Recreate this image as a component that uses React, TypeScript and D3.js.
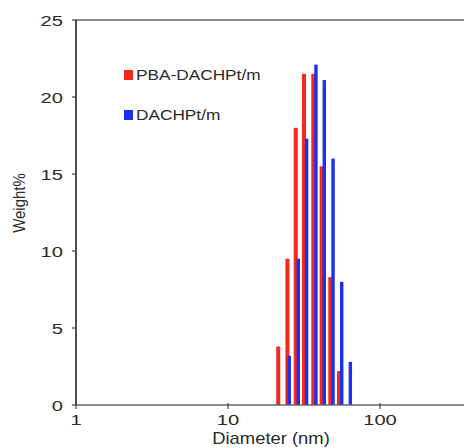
import React from "react";
import * as d3 from "d3";

const redDiameters = [21.4, 24.6, 27.9, 31.6, 36.4, 41.3, 47.1, 53.7];
const redValues = [3.8, 9.5, 18.0, 21.5, 21.5, 15.5, 8.3, 2.2];
const blueDiameters = [25.3, 29.0, 32.9, 37.9, 43.0, 49.1, 56.0, 63.8];
const blueValues = [3.2, 9.5, 17.3, 22.1, 21.1, 16.0, 8.0, 2.8];
const yTicks = [0, 5, 10, 15, 20, 25];
const xTicks = [1, 10, 100];
const seriesNames = ["PBA-DACHPt/m", "DACHPt/m"];

const W = 464;
const H = 448;
const left = 76;
const top = 20;
const bottom = 405;

export default function App() {
  const x = d3.scaleLog().domain([1, 1000]).range([left, left + 3 * 152]);
  const y = d3.scaleLinear().domain([0, 25]).range([bottom, top]);
  const red = "#f2291c";
  const blue = "#1c30ee";
  const font = "'Liberation Sans', Arial, sans-serif";
  const sx = 1.15;
  const tsx = 1.3;
  const txt = "#2a2a2a";
  return (
    <svg width={W} height={H} style={{ position: "absolute", left: 0, top: 0 }} fontFamily={font}>
      <rect width={W} height={H} fill="#fff" />
      {redDiameters.map((d, i) => (
        <rect key={"r" + i} x={x(d) - 2} width={4} y={y(redValues[i])} height={bottom - y(redValues[i])} fill={red} />
      ))}
      {blueDiameters.map((d, i) => (
        <rect key={"b" + i} x={x(d) - 1.7} width={3.4} y={y(blueValues[i])} height={bottom - y(blueValues[i])} fill={blue} />
      ))}
      <line x1={left} x2={W} y1={top} y2={top} stroke="#666" strokeWidth={1.6} />
      <line x1={left} x2={W} y1={bottom} y2={bottom} stroke="#666" strokeWidth={1.6} />
      <line x1={left} x2={left} y1={top} y2={bottom} stroke="#222" strokeWidth={1.6} />
      {yTicks.map((t) => (
        <g key={"y" + t}>
          <line x1={left - 4} x2={left} y1={y(t)} y2={y(t)} stroke="#444" strokeWidth={1.2} />
          <text transform={`translate(${left - 13},${y(t) + 5.5}) scale(${tsx},1)`} textAnchor="end" fontSize={15.5} fill={txt}>
            {t}
          </text>
        </g>
      ))}
      {xTicks.map((t) => (
        <g key={"x" + t}>
          <line x1={x(t)} x2={x(t)} y1={bottom - 2} y2={bottom + 4} stroke="#444" strokeWidth={1.2} />
          <text transform={`translate(${x(t)},${425}) scale(${tsx},1)`} textAnchor="middle" fontSize={15.5} fill={txt}>
            {t}
          </text>
        </g>
      ))}
      <text transform={`translate(271,444) scale(${sx},1)`} textAnchor="middle" fontSize={16} fill={txt}>
        Diameter (nm)
      </text>
      <text transform={`translate(25,203) rotate(-90) scale(1,${sx})`} textAnchor="middle" fontSize={15} fill={txt}>
        Weight%
      </text>
      <rect x={124} y={70} width={9} height={10} fill={red} />
      <text transform={`translate(136,80) scale(${sx},1)`} fontSize={15} fill={txt}>
        {seriesNames[0]}
      </text>
      <rect x={124} y={110} width={9} height={10} fill={blue} />
      <text transform={`translate(136,120) scale(${sx},1)`} fontSize={15} fill={txt}>
        {seriesNames[1]}
      </text>
    </svg>
  );
}
